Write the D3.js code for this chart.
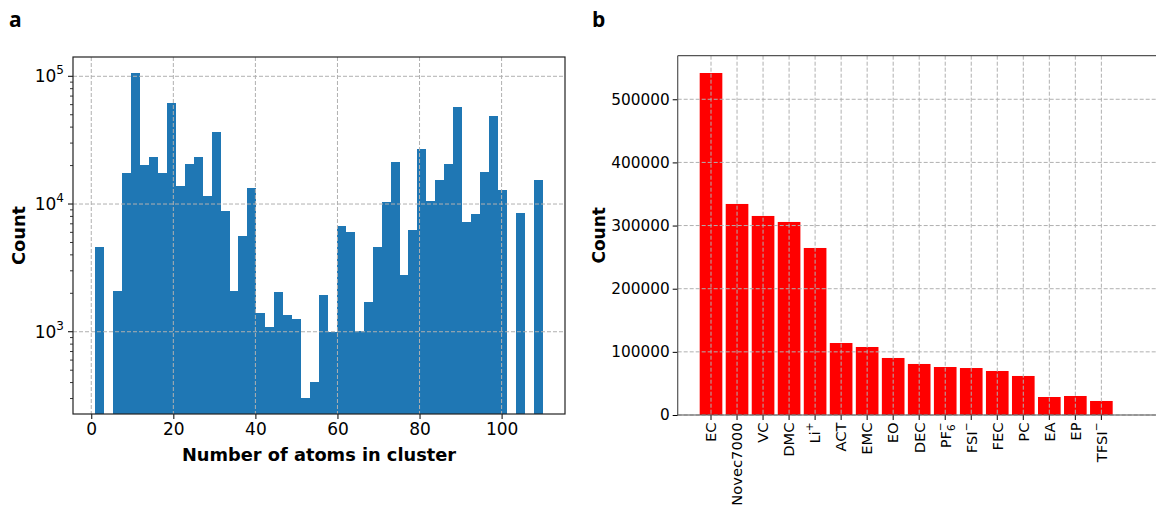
<!DOCTYPE html>
<html>
<head>
<meta charset="utf-8">
<script src="https://cdn.jsdelivr.net/npm/d3@7"></script>
<style>
  body { margin: 0; background: #fff; }
  svg { display: block; }
  text { font-family: "DejaVu Sans", sans-serif; fill: #000; }
</style>
</head>
<body>
<div id="chart"></div>
<script>
// Histogram (panel a): 50 bins between 1 and 110 atoms
var binLo = 1;
var binHi = 110;
var binCounts = [
  4580, 0, 2085, 17500, 106000, 20300, 23300, 17500, 61800, 13800,
  20500, 23300, 11550, 36600, 8810, 2080, 5610, 13340, 1400, 1088,
  2050, 1350, 1257, 304, 404, 1940, 1000, 6730, 6040, 1018,
  1718, 4600, 10370, 21300, 2790, 6250, 27000, 10560, 15400, 20500,
  57500, 7220, 8350, 17800, 48900, 12870, 0, 8500, 0, 15400
];
var histXTicks = [0, 20, 40, 60, 80, 100];
var histYTicks = [3, 4, 5]; // exponents of 10

// Bar chart (panel b)
var species = ["EC", "Novec7000", "VC", "DMC", "Li+", "ACT", "EMC", "EO", "DEC",
  "PF6-", "FSI-", "FEC", "PC", "EA", "EP", "TFSI-"];
var speciesCounts = [541600, 334200, 315200, 305700, 264500, 114000, 107700, 90300,
  80800, 76000, 74400, 69700, 61800, 28500, 30100, 22200];
var barYTicks = [0, 100000, 200000, 300000, 400000, 500000];

// label pieces: [text, "sup"|"sub"|null]
var speciesLabels = {
  "Li+": [["Li", null], ["+", "sup"]],
  "PF6-": [["PF", null], ["6", "sub"], ["\u2212", "sup"]],
  "FSI-": [["FSI", null], ["\u2212", "sup"]],
  "TFSI-": [["TFSI", null], ["\u2212", "sup"]]
};

var svg = d3.select("#chart").append("svg")
  .attr("width", 1156)
  .attr("height", 506);

var gridColor = "#b0b0b0";

// ---------- panel a ----------
var ax = { left: 73, right: 565, top: 57, bottom: 414 };

var xHist = d3.scaleLinear().domain([-4.45, 115.45]).range([ax.left, ax.right]);
var yHist = d3.scaleLog().domain([227, 141600]).range([ax.bottom, ax.top]);

var binW = (binHi - binLo) / binCounts.length;
var gA = svg.append("g");

gA.selectAll("rect.bin")
  .data(binCounts.map((c, i) => ({ i: i, c: c })).filter(d => d.c > 0))
  .join("rect")
  .attr("class", "bin")
  .attr("x", d => xHist(binLo + d.i * binW))
  .attr("width", d => xHist(binLo + (d.i + 1) * binW) - xHist(binLo + d.i * binW))
  .attr("y", d => yHist(d.c))
  .attr("height", d => ax.bottom - yHist(d.c))
  .attr("fill", "#1f77b4")
  .attr("shape-rendering", "crispEdges");

// grid on top of bars
gA.selectAll("line.gx")
  .data(histXTicks)
  .join("line")
  .attr("x1", d => xHist(d)).attr("x2", d => xHist(d))
  .attr("y1", ax.top).attr("y2", ax.bottom)
  .attr("stroke", gridColor).attr("stroke-dasharray", "4,2").attr("stroke-width", 1);

gA.selectAll("line.gy")
  .data(histYTicks)
  .join("line")
  .attr("y1", d => yHist(Math.pow(10, d))).attr("y2", d => yHist(Math.pow(10, d)))
  .attr("x1", ax.left).attr("x2", ax.right)
  .attr("stroke", gridColor).attr("stroke-dasharray", "4,2").attr("stroke-width", 1);

// axes
var xAxisA = d3.axisBottom(xHist).tickValues(histXTicks).tickSize(5).tickPadding(4);
gA.append("g")
  .attr("transform", `translate(0, ${ax.bottom})`)
  .call(xAxisA)
  .call(g => g.select(".domain").remove())
  .call(g => g.selectAll("text").attr("font-size", 17).attr("font-family", "DejaVu Sans"));

// log y ticks: minor + major
var minorTicks = yHist.ticks().filter(v => Math.abs(Math.log10(v) - Math.round(Math.log10(v))) > 1e-6);
gA.selectAll("line.ymin")
  .data(minorTicks)
  .join("line")
  .attr("x1", ax.left - 3).attr("x2", ax.left)
  .attr("y1", d => yHist(d)).attr("y2", d => yHist(d))
  .attr("stroke", "#000").attr("stroke-width", 0.8);

gA.selectAll("line.ymaj")
  .data(histYTicks)
  .join("line")
  .attr("x1", ax.left - 5).attr("x2", ax.left)
  .attr("y1", d => yHist(Math.pow(10, d))).attr("y2", d => yHist(Math.pow(10, d)))
  .attr("stroke", "#000").attr("stroke-width", 1);

var yLab = gA.selectAll("text.ylab")
  .data(histYTicks)
  .join("text")
  .attr("class", "ylab")
  .attr("x", 64)
  .attr("y", d => yHist(Math.pow(10, d)) + 6)
  .attr("text-anchor", "end")
  .attr("font-size", 17);
yLab.append("tspan").text("10");
yLab.append("tspan").text(d => d).attr("font-size", 12).attr("dy", -8);

gA.append("rect")
  .attr("x", ax.left).attr("y", ax.top)
  .attr("width", ax.right - ax.left).attr("height", ax.bottom - ax.top)
  .attr("fill", "none").attr("stroke", "#222").attr("stroke-width", 1.2);

gA.append("text")
  .attr("x", (ax.left + ax.right) / 2).attr("y", 461)
  .attr("text-anchor", "middle")
  .attr("font-size", 17.8).attr("font-weight", "bold")
  .text("Number of atoms in cluster");

gA.append("text")
  .attr("transform", `translate(25, ${(ax.top + ax.bottom) / 2}) rotate(-90)`)
  .attr("text-anchor", "middle")
  .attr("font-size", 17.8).attr("font-weight", "bold")
  .text("Count");

svg.append("text")
  .attr("x", 9).attr("y", 27)
  .attr("font-weight", "bold").attr("font-size", 21)
  .style("font-family", "Open Sans")
  .text("a");

// ---------- panel b ----------
var bx = { left: 677.7, right: 1160.7, top: 55.7, bottom: 415 };

var xBar = d3.scaleLinear().domain([-1.28, 17.28]).range([bx.left, bx.right]);
var yBar = d3.scaleLinear().domain([0, 569000]).range([bx.bottom, bx.top]);
var barW = 0.87;
var gB = svg.append("g");

gB.selectAll("rect.bar")
  .data(speciesCounts)
  .join("rect")
  .attr("class", "bar")
  .attr("x", (d, i) => xBar(i - barW / 2))
  .attr("width", xBar(barW) - xBar(0))
  .attr("y", d => yBar(d))
  .attr("height", d => bx.bottom - yBar(d))
  .attr("fill", "#ff0000");

gB.selectAll("line.gx")
  .data(species)
  .join("line")
  .attr("x1", (d, i) => xBar(i)).attr("x2", (d, i) => xBar(i))
  .attr("y1", bx.top).attr("y2", bx.bottom)
  .attr("stroke", gridColor).attr("stroke-dasharray", "4,2").attr("stroke-width", 1);

gB.selectAll("line.gy")
  .data(barYTicks)
  .join("line")
  .attr("y1", d => yBar(d)).attr("y2", d => yBar(d))
  .attr("x1", bx.left).attr("x2", bx.right)
  .attr("stroke", gridColor).attr("stroke-dasharray", "4,2").attr("stroke-width", 1);

var yAxisB = d3.axisLeft(yBar).tickValues(barYTicks).tickFormat(d3.format("d")).tickSize(5).tickPadding(3);
gB.append("g")
  .attr("transform", `translate(${bx.left}, 0)`)
  .call(yAxisB)
  .call(g => g.select(".domain").remove())
  .call(g => g.selectAll("text").attr("font-size", 15.3).attr("font-family", "DejaVu Sans"));

gB.selectAll("line.xt")
  .data(species)
  .join("line")
  .attr("x1", (d, i) => xBar(i)).attr("x2", (d, i) => xBar(i))
  .attr("y1", bx.bottom).attr("y2", bx.bottom + 5)
  .attr("stroke", "#000");

var catLab = gB.selectAll("text.cat")
  .data(species)
  .join("text")
  .attr("class", "cat")
  .attr("transform", (d, i) => `translate(${xBar(i) + 5.3}, ${bx.bottom + 7.5}) rotate(-90)`)
  .attr("text-anchor", "end")
  .attr("font-size", 14.7);

catLab.each(function (d) {
  var t = d3.select(this);
  var parts = speciesLabels[d] || [[d, null]];
  parts.forEach(function (p, k) {
    var s = t.append("tspan").text(p[0]);
    var prev = k > 0 ? parts[k - 1][1] : null;
    var shift = 0;
    if (p[1] === "sup") shift = -7;
    if (p[1] === "sub") shift = 4;
    var prevShift = prev === "sup" ? -7 : prev === "sub" ? 4 : 0;
    if (shift - prevShift !== 0) s.attr("dy", shift - prevShift);
    if (p[1]) s.attr("font-size", 10.5);
    // sub and sup stacked: pull the superscript back over the subscript
    if (p[1] === "sup" && prev === "sub") s.attr("dx", -7);
  });
});

gB.append("line")
  .attr("x1", bx.left).attr("x2", bx.left)
  .attr("y1", bx.top).attr("y2", bx.bottom)
  .attr("stroke", "#555").attr("stroke-width", 1.2);
gB.append("line")
  .attr("x1", bx.left).attr("x2", bx.right)
  .attr("y1", bx.top).attr("y2", bx.top)
  .attr("stroke", "#555").attr("stroke-width", 1.2);
gB.append("line")
  .attr("x1", bx.left).attr("x2", bx.right)
  .attr("y1", bx.bottom).attr("y2", bx.bottom)
  .attr("stroke", "#555").attr("stroke-width", 1.2);

gB.append("text")
  .attr("transform", `translate(605, ${(bx.top + bx.bottom) / 2}) rotate(-90)`)
  .attr("text-anchor", "middle")
  .attr("font-size", 17).attr("font-weight", "bold")
  .text("Count");

svg.append("text")
  .attr("x", 592).attr("y", 27)
  .attr("font-weight", "bold").attr("font-size", 21)
  .style("font-family", "Open Sans")
  .text("b");
</script>
</body>
</html>
